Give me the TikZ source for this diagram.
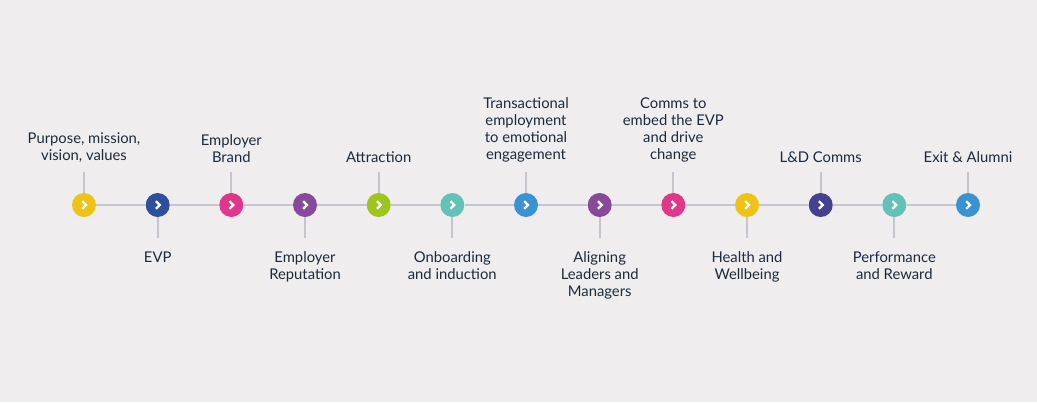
\documentclass[tikz,border=0pt]{standalone}
\usepackage{fontspec}
\setmainfont{Lato}
\definecolor{bg}{HTML}{EFEDEE}
\definecolor{linec}{HTML}{C5C5CB}
\definecolor{txt}{HTML}{1E2A3B}
\definecolor{cyellow}{HTML}{EEC317}
\definecolor{cdblue}{HTML}{2E4F9B}
\definecolor{cpink}{HTML}{E0378B}
\definecolor{cpurple}{HTML}{874A9B}
\definecolor{clime}{HTML}{9DC41F}
\definecolor{cteal}{HTML}{63C1B6}
\definecolor{cblue}{HTML}{3A92D1}
\definecolor{cindigo}{HTML}{45408F}
\tikzset{
  dot/.style={circle, fill=#1, minimum size=24pt, inner sep=0pt,
    path picture={\draw[white, line width=2.3pt, line cap=butt, line join=miter]
      ([xshift=-1.8pt,yshift=3.8pt]path picture bounding box.center) -- ++(3.8pt,-3.8pt) -- ++(-3.8pt,-3.8pt);}},
  conn/.style={draw=linec, line width=2.4pt},
  tick/.style={draw=linec, line width=2.2pt},
  up/.style={anchor=south, align=center, inner sep=0pt, text=txt, font=\fontsize{14.8}{17}\selectfont},
  down/.style={anchor=north, align=center, inner sep=0pt, text=txt, font=\fontsize{14.8}{17}\selectfont},
}
\begin{document}
\begin{tikzpicture}[x=1pt,y=-1pt]
\fill[bg] (0,0) rectangle (1037,402);
\useasboundingbox (0,0) rectangle (1037,402);
% circles
\node[dot=cyellow] (c1) at (84,205) {};
\node[dot=cdblue] (c2) at (157.7,205) {};
\node[dot=cpink] (c3) at (231.3,205) {};
\node[dot=cpurple] (c4) at (305,205) {};
\node[dot=clime] (c5) at (378.7,205) {};
\node[dot=cteal] (c6) at (452.3,205) {};
\node[dot=cblue] (c7) at (526,205) {};
\node[dot=cpurple] (c8) at (599.7,205) {};
\node[dot=cpink] (c9) at (673.3,205) {};
\node[dot=cyellow] (c10) at (747,205) {};
\node[dot=cindigo] (c11) at (820.7,205) {};
\node[dot=cteal] (c12) at (894.3,205) {};
\node[dot=cblue] (c13) at (968,205) {};
% connectors
\foreach \a/\b in {1/2,2/3,3/4,4/5,5/6,6/7,7/8,8/9,9/10,10/11,11/12,12/13}
  \draw[conn] (c\a) -- (c\b);
% tick ends
\foreach \i in {1,3,5,7,9,11,13} \coordinate (t\i) at ([yshift=21pt]c\i.north);
\foreach \i in {2,4,6,8,10,12} \coordinate (t\i) at ([yshift=-21pt]c\i.south);
\foreach \i in {1,...,13} \draw[tick] (c\i) -- (t\i);
% labels above
\node[up] (l1) at ([yshift=9pt]t1) {Purpose, mission,\\vision, values};
\node[up] (l3) at ([yshift=9pt]t3) {Employer\\Brand};
\node[up] (l5) at ([yshift=9pt]t5) {Attraction};
\node[up] (l7) at ([yshift=9pt]t7) {Transactional\\employment\\to emotional\\engagement};
\node[up] (l9) at ([yshift=9pt]t9) {Comms to\\embed the EVP\\and drive\\change};
\node[up] (l11) at ([yshift=9pt]t11) {L\&D Comms};
\node[up] (l13) at ([yshift=9pt]t13) {Exit \& Alumni};
% labels below
\node[down] (l2) at ([yshift=-13pt]t2) {EVP};
\node[down] (l4) at ([yshift=-13pt]t4) {Employer\\Reputation};
\node[down] (l6) at ([yshift=-13pt]t6) {Onboarding\\and induction};
\node[down] (l8) at ([yshift=-13pt]t8) {Aligning\\Leaders and\\Managers};
\node[down] (l10) at ([yshift=-13pt]t10) {Health and\\Wellbeing};
\node[down] (l12) at ([yshift=-13pt]t12) {Performance\\and Reward};
\end{tikzpicture}
\end{document}
